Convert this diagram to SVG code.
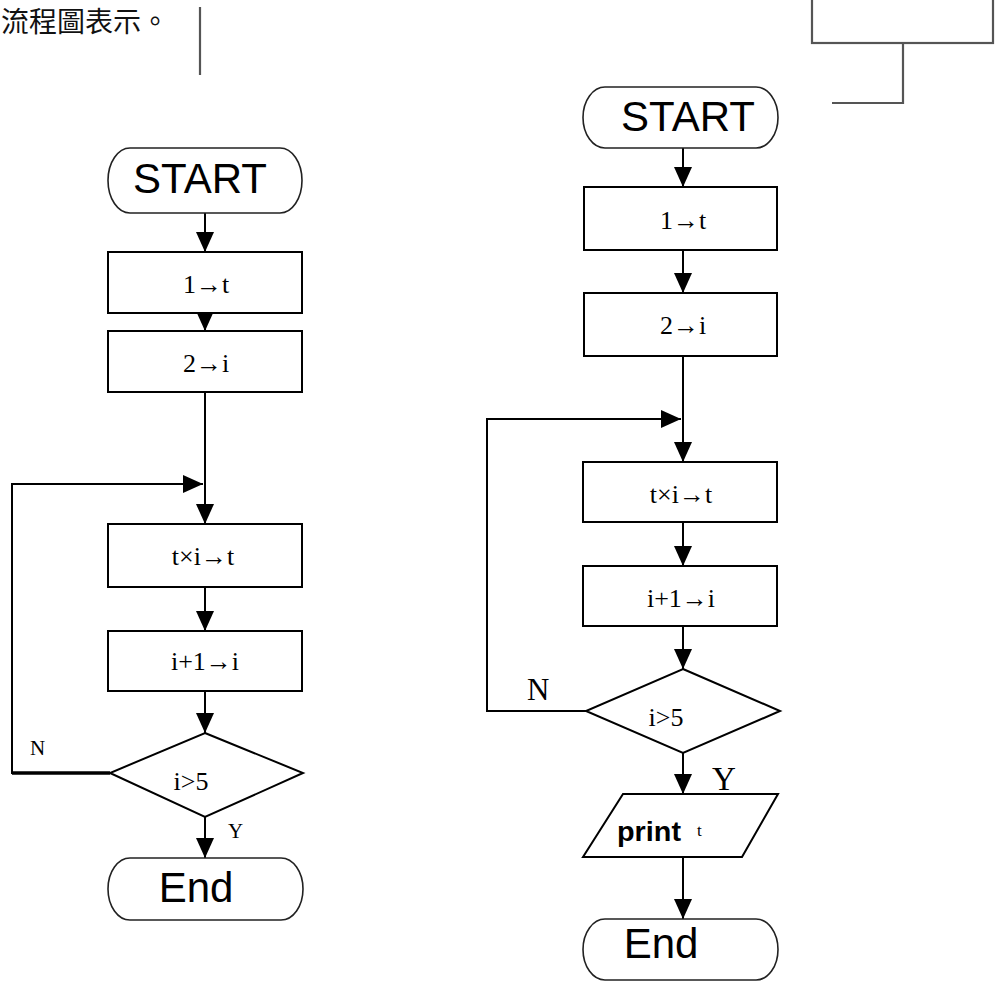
<svg xmlns="http://www.w3.org/2000/svg" width="995" height="985" viewBox="0 0 995 985">
<style>
.box{fill:#fff;stroke:#000;stroke-width:2}
.term{fill:#fff;stroke:#222;stroke-width:1.6}
.ln{fill:none;stroke:#000;stroke-width:2}
.gr{fill:none;stroke:#555;stroke-width:2.2}
.big{font-family:"Liberation Sans",Arial,sans-serif;font-size:42px;fill:#000;text-anchor:middle}
.ser{font-family:"Liberation Serif","Times New Roman",serif;fill:#000}
.lbl{font-size:26px;text-anchor:middle}
</style>
<defs>
<marker id="ah" markerUnits="userSpaceOnUse" markerWidth="20" markerHeight="18" refX="20" refY="9" orient="auto">
<path d="M0,0 L20,9 L0,18 Z" fill="#000"/>
</marker>
</defs>
<rect width="995" height="985" fill="#fff"/>

<g id="caption">
<text x="1" y="32" font-family="'Noto Sans CJK TC','Noto Sans CJK SC',sans-serif" font-size="28" fill="#111">流程圖表示。</text>
<line class="gr" x1="200" y1="7" x2="200" y2="75"/>
</g>

<g id="fragment-topright">
<rect class="gr" x="812" y="-5" width="181" height="48"/>
<polyline class="gr" points="903,43 903,103 832,103"/>
</g>

<g id="connectors">
<line class="ln" x1="205" y1="213" x2="205" y2="252" marker-end="url(#ah)"/>
<line class="ln" x1="205" y1="313" x2="205" y2="331" marker-end="url(#ah)"/>
<line class="ln" x1="205" y1="392" x2="205" y2="524" marker-end="url(#ah)"/>
<path class="ln" d="M110,773 H12 V484 H203" marker-end="url(#ah)"/>
<line x1="12" y1="773" x2="110" y2="773" stroke="#000" stroke-width="3.5"/>
<line class="ln" x1="205" y1="587" x2="205" y2="631" marker-end="url(#ah)"/>
<line class="ln" x1="205" y1="691" x2="205" y2="733" marker-end="url(#ah)"/>
<line class="ln" x1="205" y1="817" x2="205" y2="858" marker-end="url(#ah)"/>

<line class="ln" x1="683" y1="148" x2="683" y2="187" marker-end="url(#ah)"/>
<line class="ln" x1="683" y1="250" x2="683" y2="293" marker-end="url(#ah)"/>
<line class="ln" x1="683" y1="356" x2="683" y2="462" marker-end="url(#ah)"/>
<path class="ln" d="M586,711 H487 V419 H681" marker-end="url(#ah)"/>
<line class="ln" x1="683" y1="522" x2="683" y2="566" marker-end="url(#ah)"/>
<line class="ln" x1="683" y1="626" x2="683" y2="669" marker-end="url(#ah)"/>
<line class="ln" x1="683" y1="753" x2="683" y2="794" marker-end="url(#ah)"/>
<line class="ln" x1="683" y1="857" x2="683" y2="919" marker-end="url(#ah)"/>

<text class="ser" x="30" y="755" font-size="21">N</text>
<text class="ser" x="228" y="838" font-size="21">Y</text>
<text class="ser" x="527" y="700" font-size="31">N</text>
<text class="ser" x="712" y="790" font-size="33">Y</text>
</g>

<g id="left-start">
<path class="term" d="M130,148 H280 A22,32.5 0 0 1 280,213 H130 A22,32.5 0 0 1 130,148 Z"/>
<text class="big" x="200" y="193">START</text>
</g>
<g id="left-init-t">
<rect class="box" x="108" y="252" width="194" height="61"/>
<text class="ser lbl" x="206" y="293">1→t</text>
</g>
<g id="left-init-i">
<rect class="box" x="108" y="331" width="194" height="61"/>
<text class="ser lbl" x="206" y="372">2→i</text>
</g>
<g id="left-mult">
<rect class="box" x="108" y="524" width="194" height="63"/>
<text class="ser lbl" x="203" y="565">t×i→t</text>
</g>
<g id="left-inc">
<rect class="box" x="108" y="631" width="194" height="60"/>
<text class="ser lbl" x="205" y="670">i+1→i</text>
</g>
<g id="left-cond">
<polygon class="box" points="205,733 303,773 205,817 110,773" stroke-width="1.6"/>
<text class="ser lbl" x="191" y="790">i&gt;5</text>
</g>
<g id="left-end">
<path class="term" d="M130,858 H281 A22,31 0 0 1 281,920 H130 A22,31 0 0 1 130,858 Z"/>
<text class="big" x="196" y="902">End</text>
</g>

<g id="right-start">
<path class="term" d="M605,87 H756 A22,30.5 0 0 1 756,148 H605 A22,30.5 0 0 1 605,87 Z"/>
<text class="big" x="688" y="131">START</text>
</g>
<g id="right-init-t">
<rect class="box" x="584" y="187" width="193" height="63"/>
<text class="ser lbl" x="683" y="229">1→t</text>
</g>
<g id="right-init-i">
<rect class="box" x="584" y="293" width="193" height="63"/>
<text class="ser lbl" x="683" y="334">2→i</text>
</g>
<g id="right-mult">
<rect class="box" x="583" y="462" width="194" height="60"/>
<text class="ser lbl" x="681" y="503">t×i→t</text>
</g>
<g id="right-inc">
<rect class="box" x="583" y="566" width="194" height="60"/>
<text class="ser lbl" x="681" y="607">i+1→i</text>
</g>
<g id="right-cond">
<polygon class="box" points="683,669 780,711 683,753 586,711" stroke-width="1.6"/>
<text class="ser lbl" x="666" y="726">i&gt;5</text>
</g>
<g id="right-print">
<polygon class="box" points="623,794 778,794 742,857 583,857" stroke-width="1.8"/>
<text x="617" y="841" font-family="'Liberation Sans',Arial,sans-serif" font-weight="bold" font-size="27" fill="#000" textLength="64" lengthAdjust="spacingAndGlyphs">print</text>
<text class="ser" x="697" y="836" font-size="17">t</text>
</g>
<g id="right-end">
<path class="term" d="M605,919 H756 A22,30.5 0 0 1 756,980 H605 A22,30.5 0 0 1 605,919 Z"/>
<text class="big" x="661" y="958">End</text>
</g>
</svg>
